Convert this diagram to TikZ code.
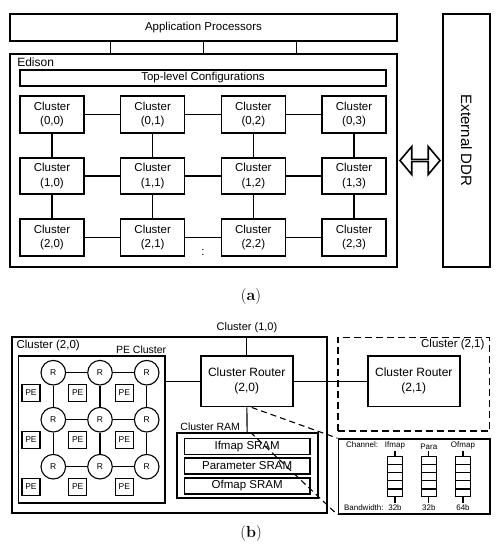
\documentclass[tikz,border=0pt]{standalone}
\usepackage{fontspec}
\setsansfont{Liberation Sans}
\usetikzlibrary{positioning,calc,shapes.arrows}

\begin{document}
\begin{tikzpicture}[x=1pt, y=-1pt, line width=1.1pt,
    font=\sffamily\fontsize{11.5}{14.5}\selectfont,
    box/.style={draw, line width=1.6pt, inner sep=0pt, align=center},
    clu/.style={box, minimum width=64pt, minimum height=36.5pt},
    sram/.style={box, line width=1.2pt, minimum width=125.7pt, minimum height=16pt},
    rtr/.style={box, minimum width=92pt, minimum height=50.7pt, font=\sffamily\fontsize{12}{15}\selectfont},
    rnode/.style={draw, circle, line width=1.1pt, minimum size=24.6pt, inner sep=0pt, font=\sffamily\fontsize{8.5}{10}\selectfont},
    pe/.style={draw, line width=1.1pt, minimum width=18pt, minimum height=17.5pt, inner sep=0pt, font=\sffamily\fontsize{8.5}{10}\selectfont},
    lbl/.style={inner sep=1pt, font=\sffamily\fontsize{10.5}{12}\selectfont},
    tiny/.style={inner sep=1pt, font=\sffamily\fontsize{8}{9}\selectfont},
    fifo/.style={draw, line width=1.1pt, minimum width=15pt, minimum height=40pt, inner sep=0pt},
    callout/.style={dash pattern=on 6pt off 4pt, line width=1.1pt},
    captxt/.style={font=\rmfamily\fontsize{16}{19}\selectfont}]

    \useasboundingbox (0,0) rectangle (503,550);

    % (a) top level
    \node[box, minimum width=387pt, minimum height=27pt] (ap) at (203.5,27.5) {Application Processors};
    \node[box, minimum width=387pt, minimum height=213pt] (edison) at (203.5,160.5) {};
    \node[anchor=west, inner sep=1pt, font=\sffamily\fontsize{12}{14}\selectfont] (edlbl) at (15.7,62) {Edison};
    \foreach \f in {0.26,0.5,0.74}
        \draw ($(ap.south west)!\f!(ap.south east)$) -- ($(edison.north west)!\f!(edison.north east)$);
    \node[box, minimum width=366pt, minimum height=16pt] (top) at (203,78) {Top-level Configurations};

    \foreach \i in {0,1,2}
        \foreach \j in {0,...,3}
            \node[clu] (c\i\j) at ({52+100.67*\j},{114.5+61.5*\i}) {Cluster\\(\i,\j)};
    \foreach \i in {0,1,2}
        \draw (c\i0) -- (c\i1) -- (c\i2) -- (c\i3);
    \foreach \j in {0,...,3}
        \draw (c0\j) -- (c1\j) -- (c2\j);
    \node (dots) at (203,252) {:};

    \node[box, rotate=-90, minimum width=253pt, minimum height=47pt, font=\sffamily\fontsize{15}{18}\selectfont] (ddr) at (466.5,140.5) {External DDR};
    \node[double arrow, draw, line width=1.6pt, fill=white, minimum height=40pt, minimum width=28pt,
        double arrow head extend=9pt, double arrow tip angle=100, inner sep=0pt] (bi)
        at ($(edison.east)!0.5!(edison.east -| ddr.south)$) {};

    \node[captxt] (capa) at (251,297) {(\textbf{a})};

    % (b) cluster detail
    \node[box, minimum width=315.3pt, minimum height=176pt] (ca) at (169.35,425) {};
    \node[anchor=west, inner sep=1pt] (calbl) at (15,346) {Cluster (2,0)};
    \node[rtr] (rta) at (246.7,381.3) {Cluster Router\\(2,0)};
    \node[inner sep=1pt, font=\sffamily\fontsize{11}{13}\selectfont] (l10) at (247,328) {Cluster (1,0)};
    \draw (rta.north |- ca.north) -- (rta);

    \node[box, minimum width=146.7pt, minimum height=147pt] (pec) at (91.65,429.5) {};
    \node[lbl, above left=0.5pt and -2pt of pec.north east] (peclbl) {PE Cluster};
    \foreach \i in {0,1,2}
        \foreach \j in {0,1,2} {
            \node[rnode] (r\i\j) at ({53.3+46.7*\j},{372.7+47*\i}) {R};
            \node[pe] (pe\i\j) at ($(r\i\j)+(-22.3,20.3)$) {PE};
        }
    \foreach \i in {0,1,2}
        \draw (r\i0) -- (r\i1) -- (r\i2);
    \foreach \j in {0,1,2}
        \draw (r0\j) -- (r1\j) -- (r2\j);
    \draw (rta.west -| pec.east) -- (rta.west);

    \node[box, minimum width=141.3pt, minimum height=64.7pt] (ram) at (247.35,465.35) {};
    \node[lbl, above right=0.5pt and 3pt of ram.north west] (ramlbl) {Cluster RAM};
    \node[sram] (ifm) at (247.15,446.2) {Ifmap SRAM};
    \node[sram] (par) at (247.15,466) {Parameter SRAM};
    \node[sram] (ofm) at (247.15,486) {Ofmap SRAM};
    \draw (rta) -- (ram);

    \node[box, dash pattern=on 7pt off 4pt, minimum width=151.6pt, minimum height=93.7pt] (cb) at (413.5,384.15) {};
    \node[anchor=east, inner sep=1pt] (cblbl) at (486,345) {Cluster (2,1)};
    \node[rtr] (rtb) at (413.8,381.3) {Cluster Router\\(2,1)};
    \draw (rta) -- (rtb);

    % channel zoom
    \node[box, minimum width=151.7pt, minimum height=75pt] (chb) at (414.15,476.5) {};
    \coordinate (tapA) at ($(rta.south)+(5,0)$);
    \coordinate (tapB) at ($(ram.north)+(3,0)$);
    \draw[callout] (tapA) -- (chb.north west);
    \draw[callout] (tapB) -- (chb.south west);

    \node[fifo] (ff1) at (395,476.7) {};
    \node[fifo] (ff2) at (428.8,476.7) {};
    \node[fifo] (ff3) at (463,476.7) {};
    \foreach \f in {ff1,ff2,ff3}
        \foreach \k in {1,...,4}
            \draw ($(\f.north west)!{\k/5}!(\f.south west)$) -- ($(\f.north east)!{\k/5}!(\f.south east)$);
    \node[tiny, above=5pt of ff1] (tif) {Ifmap};
    \node[tiny, above=5pt of ff2] (tpa) {Para};
    \node[tiny, above=5pt of ff3] (tof) {Ofmap};
    \node[tiny, below=5.5pt of ff1] (bw1) {32b};
    \node[tiny, below=5.5pt of ff2] (bw2) {32b};
    \node[tiny, below=5.5pt of ff3] (bw3) {64b};
    \foreach \t/\f/\b in {tif/ff1/bw1, tpa/ff2/bw2, tof/ff3/bw3} {
        \draw (\t) -- (\f);
        \draw (\f) -- (\b);
    }
    \node[tiny, anchor=base west] (tch) at ($(tif.base -| chb.west)+(7,0)$) {Channel:};
    \node[tiny, anchor=base west] (tbw) at ($(bw1.base -| chb.west)+(5,0)$) {Bandwidth:};

    \node[captxt] (capb) at (251,534) {(\textbf{b})};
\end{tikzpicture}
\end{document}
